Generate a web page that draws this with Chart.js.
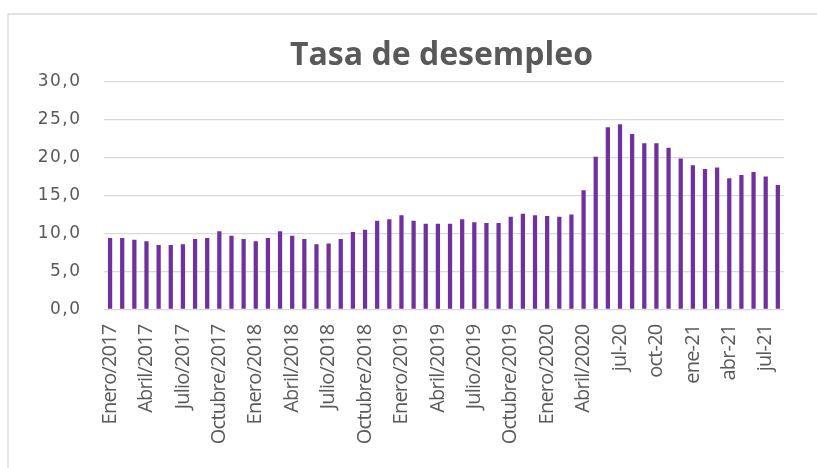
<!DOCTYPE html>
<html>
<head>
<meta charset="utf-8">
<script src="https://cdn.jsdelivr.net/npm/chart.js@4.4.1/dist/chart.umd.min.js"></script>
<style>
  html, body { margin: 0; padding: 0; background: #ffffff; }
  #wrap { position: relative; width: 817px; height: 468px; }
</style>
</head>
<body>
<div id="wrap"><canvas id="c"></canvas></div>
<script>
// ---- data ----
const months = [
  "Enero/2017","Febrero/2017","Marzo/2017","Abril/2017","Mayo/2017","Junio/2017",
  "Julio/2017","Agosto/2017","Septiembre/2017","Octubre/2017","Noviembre/2017","Diciembre/2017",
  "Enero/2018","Febrero/2018","Marzo/2018","Abril/2018","Mayo/2018","Junio/2018",
  "Julio/2018","Agosto/2018","Septiembre/2018","Octubre/2018","Noviembre/2018","Diciembre/2018",
  "Enero/2019","Febrero/2019","Marzo/2019","Abril/2019","Mayo/2019","Junio/2019",
  "Julio/2019","Agosto/2019","Septiembre/2019","Octubre/2019","Noviembre/2019","Diciembre/2019",
  "Enero/2020","Febrero/2020","Marzo/2020","Abril/2020","may-20","jun-20",
  "jul-20","ago-20","sep-20","oct-20","nov-20","dic-20",
  "ene-21","feb-21","mar-21","abr-21","may-21","jun-21","jul-21","ago-21"
];
const unemployment = [
  9.4, 9.4, 9.2, 9.0, 8.5, 8.5, 8.6, 9.3, 9.4, 10.3, 9.7, 9.3,
  9.0, 9.4, 10.3, 9.7, 9.3, 8.6, 8.7, 9.3, 10.2, 10.5, 11.7, 11.9,
  12.4, 11.7, 11.3, 11.3, 11.3, 11.9, 11.5, 11.4, 11.4, 12.2, 12.6, 12.4,
  12.3, 12.2, 12.5, 15.7, 20.1, 24.0, 24.4, 23.1, 21.9, 21.9, 21.3, 19.9,
  19.0, 18.5, 18.7, 17.3, 17.7, 18.1, 17.5, 16.4
];
const yTicks = [0, 5, 10, 15, 20, 25, 30];
const chartTitle = "Tasa de desempleo";

const textColor = "#595959";
const gridColor = "#d9d9d9";

function patchSpacing(scale, spacing) {
  if (!scale || scale._lsPatched) return;
  const orig = scale.drawLabels;
  scale.drawLabels = function (a) {
    const c = this.ctx;
    c.save();
    c.letterSpacing = spacing;
    orig.call(this, a);
    c.restore();
  };
  scale._lsPatched = true;
}

const framePlugin = {
  id: "frame",
  beforeDraw(chart) {
    const ctx = chart.ctx;
    ctx.save();
    ctx.strokeStyle = gridColor;
    ctx.lineWidth = 1.3;
    ctx.beginPath();
    ctx.moveTo(8, 468);
    ctx.lineTo(8, 14);
    ctx.lineTo(817, 14);
    ctx.stroke();
    ctx.restore();
    patchSpacing(chart.scales.y, "1.5px");
    patchSpacing(chart.scales.x, "-0.8px");
  },
  afterDraw(chart) {
    const ctx = chart.ctx;
    ctx.save();
    ctx.fillStyle = textColor;
    ctx.font = "bold 32px 'Open Sans'";
    ctx.textAlign = "center";
    ctx.textBaseline = "alphabetic";
    ctx.fillText(chartTitle, 441.5, 64.5);
    ctx.restore();
  }
};

new Chart(document.getElementById("c"), {
  type: "bar",
  data: {
    labels: months,
    datasets: [{
      label: chartTitle,
      data: unemployment,
      backgroundColor: "#7030A0",
      borderWidth: 0,
      barPercentage: 0.35,
      categoryPercentage: 1.0
    }]
  },
  options: {
    responsive: true,
    maintainAspectRatio: false,
    animation: false,
    devicePixelRatio: 1,
    layout: { padding: { left: 0, right: 18, top: 81.7, bottom: 0 } },
    plugins: {
      legend: { display: false },
      tooltip: { enabled: false },
      title: { display: false }
    },
    scales: {
      x: {
        grid: { display: false, drawTicks: false },
        border: { display: false },
        afterFit: (s) => { s.height = 158.5; },
        ticks: {
          autoSkip: false,
          maxRotation: 90,
          minRotation: 90,
          padding: 15,
          color: textColor,
          font: { family: "'Open Sans'", size: 20 },
          callback: function (val, idx) {
            return idx % 3 === 0 ? this.getLabelForValue(val) : "";
          }
        }
      },
      y: {
        min: 0,
        max: 30,
        afterFit: (s) => { s.width = 104; },
        afterBuildTicks: (s) => { s.ticks = yTicks.map(v => ({ value: v })); },
        grid: { color: gridColor, lineWidth: 1.3, drawTicks: false },
        border: { display: false },
        ticks: {
          stepSize: 5,
          padding: 22.5,
          color: textColor,
          font: { family: "'DejaVu Sans'", size: 17 },
          callback: (v) => v.toFixed(1).replace(".", ",")
        }
      }
    }
  },
  plugins: [framePlugin]
});
</script>
</body>
</html>
